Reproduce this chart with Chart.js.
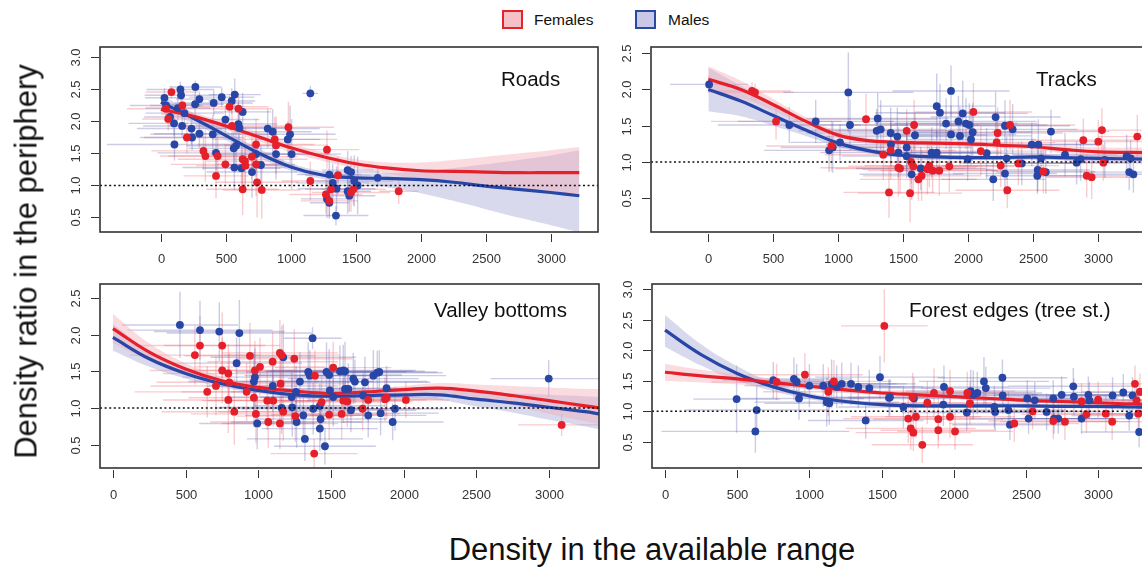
<!DOCTYPE html>
<html>
<head>
<meta charset="utf-8">
<script src="https://cdn.jsdelivr.net/npm/chart.js@4.4.1/dist/chart.umd.min.js"></script>
<style>
  body { margin: 0; background: #fff; }
  #wrap { position: relative; width: 1142px; height: 569px; overflow: hidden; background: #fff;
          font-family: "Liberation Sans", Arial, sans-serif; color: #111; }
  canvas { position: absolute; }
  .ptitle { position: absolute; font-size: 20.5px; line-height: 20.5px; white-space: nowrap; }
  .lgbox { position: absolute; width: 17px; height: 15px; border: 2px solid; }
  .lgtxt { position: absolute; font-size: 15.5px; line-height: 16px; top: 12px; }
  #xtitle { position: absolute; left: 352px; top: 534px; width: 600px; text-align: center;
            font-size: 31px; line-height: 31px; }
  #ytitle { position: absolute; left: -224px; top: 246px; width: 500px; text-align: center;
            font-size: 31px; line-height: 31px; transform: rotate(-90deg); }
</style>
</head>
<body>
<div id="wrap">
  <div class="lgbox" style="left:502px; top:10px; background:rgba(245,185,192,0.9); border-color:#e3242b;"></div>
  <div class="lgtxt" style="left:534px;">Females</div>
  <div class="lgbox" style="left:635px; top:10px; background:rgba(195,195,228,0.9); border-color:#2b48a3;"></div>
  <div class="lgtxt" style="left:668px;">Males</div>

  <canvas id="roads" width="612" height="250" style="left:0px; top:30px;"></canvas>
  <canvas id="tracks" width="560" height="250" style="left:612px; top:30px;"></canvas>
  <canvas id="valley" width="612" height="250" style="left:0px; top:270px;"></canvas>
  <canvas id="forest" width="560" height="250" style="left:612px; top:270px;"></canvas>

  <div class="ptitle" style="left:501px; top:69px;">Roads</div>
  <div class="ptitle" style="left:1036px; top:69px;">Tracks</div>
  <div class="ptitle" style="left:434px; top:300px;">Valley bottoms</div>
  <div class="ptitle" style="left:909px; top:300px;">Forest edges (tree st.)</div>

  <div id="xtitle">Density in the available range</div>
  <div id="ytitle">Density ratio in the periphery</div>
</div>

<script>
// tick labels
const xTicks = [0, 500, 1000, 1500, 2000, 2500, 3000];
const yTicks30 = [0.5, 1.0, 1.5, 2.0, 2.5, 3.0];
const yTicks25 = [0.5, 1.0, 1.5, 2.0, 2.5];

// points: [density, ratio, x half-error, y half-error]
const roadsF = [
  [81,2.46,200,0.10],[38,2.20,300,0.15],[56,2.04,200,0.18],[165,2.25,250,0.15],[528,2.23,300,0.20],
  [597,2.20,260,0.25],[327,1.54,400,0.30],[342,1.46,350,0.40],[437,1.46,380,0.35],[496,1.33,420,0.30],
  [629,1.41,500,0.45],[647,1.38,300,0.40],[650,1.31,380,0.35],[732,1.64,450,0.40],[732,1.33,300,0.50],
  [876,1.72,480,0.35],[886,1.63,400,0.45],[981,1.91,350,0.40],[424,1.15,250,0.35],[740,1.05,320,0.55],
  [629,0.94,280,0.40],[776,0.93,300,0.45],[1150,1.07,220,0.30],[1278,1.56,250,0.30],[1309,0.94,200,0.25],
  [1270,0.86,280,0.30],[1296,0.76,220,0.25],[1363,1.16,250,0.30],[547,1.93,400,0.35],[1463,0.89,300,0.30],
  [1481,0.94,250,0.25],[1830,0.91,150,0.20],[200,1.75,330,0.25],[700,1.45,350,0.35]
];
const roadsM = [
  [27,2.37,150,0.15],[150,2.50,260,0.12],[265,2.54,200,0.10],[155,2.41,280,0.15],[296,2.35,180,0.12],
  [263,2.27,220,0.18],[406,2.29,300,0.20],[468,2.38,250,0.15],[568,2.42,200,0.25],[545,2.32,180,0.20],
  [629,2.15,220,0.30],[70,2.07,200,0.15],[101,1.97,350,0.20],[163,1.93,300,0.18],[235,1.89,420,0.25],
  [296,1.81,350,0.22],[240,1.75,400,0.20],[104,1.64,520,0.25],[399,1.80,480,0.30],[496,2.03,260,0.22],
  [596,1.96,300,0.35],[604,1.90,380,0.30],[822,1.89,400,0.30],[860,1.84,300,0.35],[976,1.72,250,0.28],
  [994,1.80,350,0.45],[886,1.49,500,0.40],[732,1.49,420,0.35],[578,1.62,380,0.30],[424,1.51,450,0.28],
  [565,1.28,400,0.35],[701,1.21,350,0.40],[1006,1.49,300,0.55],[1150,2.44,60,0.12],[1296,1.17,250,0.25],
  [1322,1.04,280,0.30],[1352,0.95,300,0.35],[1278,0.79,200,0.30],[1296,0.73,150,0.25],[1347,0.53,250,0.15],
  [1437,1.24,200,0.30],[1437,0.91,180,0.35],[40,2.25,280,0.18],[130,2.21,250,0.20],[181,2.13,300,0.18],
  [1463,1.21,220,0.25],[1488,1.07,300,0.40],[1514,1.00,250,0.45],[1450,0.84,200,0.25],[1668,1.12,180,0.15],
  [560,1.58,350,0.25],[620,1.27,300,0.35],[770,1.32,250,0.30]
];
const roadsKnots = [0, 250, 500, 750, 1000, 1250, 1500, 1750, 2000, 2250, 2500, 2750, 3000, 3220];
const roadsFitF = [2.19, 2.08, 1.93, 1.76, 1.59, 1.45, 1.34, 1.27, 1.23, 1.22, 1.21, 1.20, 1.20, 1.20];
const roadsHiF  = [2.28, 2.14, 1.99, 1.83, 1.66, 1.52, 1.41, 1.36, 1.36, 1.40, 1.45, 1.50, 1.55, 1.60];
const roadsLoF  = [2.10, 2.02, 1.87, 1.69, 1.52, 1.38, 1.27, 1.18, 1.10, 1.04, 0.98, 0.93, 0.88, 0.82];
const roadsFitM = [2.30, 2.05, 1.78, 1.51, 1.29, 1.16, 1.12, 1.11, 1.09, 1.05, 0.99, 0.94, 0.89, 0.84];
const roadsHiM  = [2.42, 2.13, 1.85, 1.58, 1.35, 1.22, 1.19, 1.20, 1.22, 1.27, 1.33, 1.40, 1.47, 1.55];
const roadsLoM  = [2.18, 1.97, 1.71, 1.44, 1.23, 1.10, 1.05, 0.97, 0.88, 0.76, 0.63, 0.50, 0.38, 0.27];

const tracksF = [
  [336,1.98,300,0.12],[359,1.96,300,0.12],[521,1.56,500,0.25],[947,1.22,500,0.35],[1213,1.59,550,0.35],
  [1403,1.16,500,0.40],[1346,1.10,450,0.35],[1462,0.92,600,0.40],[1390,0.58,350,0.35],[1552,0.57,400,0.40],
  [1475,0.91,500,0.35],[1583,1.51,500,0.35],[1526,1.43,550,0.30],[1577,0.94,500,0.35],[1616,0.76,450,0.30],
  [1641,0.81,450,0.35],[1685,0.90,500,0.35],[1726,0.88,500,0.30],[1777,0.88,450,0.35],[1854,0.94,500,0.35],
  [2039,1.69,450,0.40],[2096,1.15,500,0.35],[2226,1.40,500,0.35],[2218,1.27,450,0.30],[2249,0.95,450,0.30],
  [2321,1.51,500,0.35],[2300,0.61,400,0.25],[2385,0.98,450,0.30],[2577,0.87,400,0.30],[2885,1.30,400,0.30],
  [2911,0.81,350,0.30],[2949,0.79,350,0.30],[3000,1.28,350,0.30],[3028,1.44,350,0.30],[3039,0.99,350,0.25],
  [3300,1.35,300,0.30],[1560,1.00,450,0.30],[1700,0.95,500,0.30]
];
const tracksM = [
  [6,2.07,300,0.12],[623,1.51,550,0.25],[826,1.56,600,0.30],[1077,1.96,500,0.55],[1090,1.51,450,0.35],
  [929,1.16,500,0.30],[957,1.20,400,0.35],[1013,1.27,380,0.25],[1303,1.60,550,0.35],[1295,1.43,600,0.30],
  [1326,1.45,500,0.40],[1403,1.40,650,0.35],[1454,1.35,550,0.40],[1405,1.24,500,0.30],[1462,1.13,600,0.35],
  [1526,1.20,500,0.35],[1590,1.37,550,0.30],[1564,0.83,400,0.35],[1634,0.91,500,0.30],[1718,1.13,450,0.35],
  [1757,1.13,500,0.30],[1757,1.77,450,0.45],[1782,1.68,500,0.40],[1829,1.53,550,0.35],[1867,1.98,450,0.35],
  [1867,1.38,500,0.40],[1924,1.56,600,0.35],[1936,1.36,550,0.40],[1957,1.67,500,0.45],[1982,1.53,550,0.35],
  [2008,1.51,600,0.30],[2021,1.31,500,0.35],[2034,1.41,450,0.40],[1995,1.04,500,0.30],[2141,1.12,450,0.35],
  [2210,1.62,500,0.35],[2192,0.76,400,0.30],[2282,1.50,500,0.35],[2295,1.05,450,0.30],[2282,0.84,400,0.30],
  [2341,1.45,500,0.35],[2411,0.98,450,0.30],[2488,1.24,500,0.30],[2539,1.24,450,0.35],[2534,0.89,400,0.30],
  [2531,0.81,400,0.25],[2596,0.86,380,0.30],[2636,1.42,450,0.30],[2744,1.10,400,0.30],[2833,0.99,400,0.30],
  [2864,1.04,380,0.30],[3218,1.08,350,0.30],[3249,1.05,350,0.25],[3238,0.86,300,0.25],[3270,0.83,300,0.25],
  [1526,1.08,500,0.30],[2560,1.05,450,0.25],[3050,1.03,300,0.25]
];
const tracksKnots = [0, 250, 500, 750, 1000, 1250, 1500, 1750, 2000, 2250, 2500, 2750, 3000, 3370];
const tracksFitF = [2.14, 2.00, 1.79, 1.56, 1.37, 1.29, 1.27, 1.26, 1.25, 1.23, 1.21, 1.17, 1.14, 1.13];
const tracksHiF  = [2.32, 2.12, 1.87, 1.62, 1.42, 1.33, 1.31, 1.30, 1.29, 1.27, 1.25, 1.22, 1.20, 1.20];
const tracksLoF  = [1.96, 1.88, 1.71, 1.50, 1.32, 1.25, 1.23, 1.22, 1.21, 1.19, 1.17, 1.12, 1.08, 1.06];
const tracksFitM = [2.00, 1.84, 1.64, 1.44, 1.26, 1.15, 1.09, 1.07, 1.06, 1.06, 1.07, 1.06, 1.05, 1.04];
const tracksHiM  = [2.30, 2.05, 1.78, 1.52, 1.31, 1.19, 1.12, 1.10, 1.09, 1.09, 1.10, 1.10, 1.10, 1.10];
const tracksLoM  = [1.70, 1.63, 1.50, 1.36, 1.21, 1.11, 1.06, 1.04, 1.03, 1.03, 1.04, 1.02, 1.00, 0.98];

const valleyF = [
  [599,1.85,450,0.40],[752,1.85,400,0.45],[564,1.72,450,0.40],[649,1.22,500,0.35],[709,1.30,450,0.40],
  [752,1.51,500,0.45],[794,1.47,450,0.40],[801,1.35,500,0.40],[794,1.11,450,0.45],[835,0.95,500,0.45],
  [920,1.22,450,0.40],[943,1.71,450,0.45],[977,1.51,500,0.40],[1012,1.56,450,0.40],[970,1.14,450,0.40],
  [984,0.92,450,0.40],[1069,0.81,400,0.35],[1099,1.63,450,0.40],[1149,1.75,400,0.45],[1161,1.72,400,0.40],
  [1062,1.10,450,0.40],[1103,1.10,450,0.35],[1154,1.33,450,0.40],[1172,0.95,450,0.40],[1149,0.79,400,0.35],
  [1248,1.67,400,0.40],[1255,0.89,400,0.35],[1390,1.44,400,0.35],[1385,0.38,300,0.20],[1436,1.08,450,0.35],
  [1488,0.91,400,0.35],[1516,1.55,400,0.35],[1574,0.92,400,0.35],[1613,1.09,450,0.35],[1585,1.10,450,0.30],
  [1718,0.99,400,0.30],[1757,1.11,400,0.30],[1872,1.12,400,0.30],[1884,1.14,350,0.30],[2016,1.11,300,0.25],
  [3088,0.77,300,0.15]
];
const valleyM = [
  [461,2.13,400,0.45],[599,2.06,500,0.40],[732,2.04,450,0.40],[870,2.02,500,0.45],[851,1.61,450,0.35],
  [977,1.42,500,0.40],[970,1.36,450,0.40],[1172,1.69,500,0.45],[1374,1.95,200,0.15],[993,0.79,400,0.35],
  [1161,1.00,450,0.35],[1234,1.01,500,0.40],[1230,1.15,450,0.35],[1287,1.36,500,0.40],[1264,0.81,450,0.35],
  [1321,0.58,400,0.30],[1344,1.49,500,0.40],[1355,1.44,450,0.35],[1378,0.99,500,0.35],[1424,0.72,400,0.30],
  [1459,0.48,350,0.25],[1470,1.49,550,0.40],[1488,1.45,500,0.35],[1493,1.24,450,0.35],[1516,1.15,500,0.40],
  [1429,0.85,450,0.30],[1562,1.50,500,0.35],[1597,1.50,550,0.40],[1620,1.26,500,0.35],[1424,1.03,450,0.30],
  [1310,0.90,400,0.35],[1585,1.51,500,0.35],[1654,1.40,450,0.35],[1665,1.36,500,0.30],[1734,1.35,450,0.35],
  [1792,1.44,500,0.35],[1819,1.48,450,0.30],[1833,1.49,400,0.30],[1883,1.27,400,0.30],[1941,0.99,350,0.30],
  [1925,0.81,350,0.25],[1757,0.90,400,0.30],[1842,0.93,400,0.30],[1638,0.97,450,0.30],[2999,1.40,400,0.25],
  [1597,1.26,450,0.30],[1722,1.17,450,0.30],[1100,1.30,450,0.35],[1260,1.22,450,0.35]
];
const valleyKnots = [0, 250, 500, 750, 1000, 1250, 1500, 1750, 2000, 2250, 2500, 2750, 3000, 3250, 3350];
const valleyFitF = [2.08, 1.76, 1.53, 1.37, 1.28, 1.23, 1.20, 1.22, 1.25, 1.27, 1.23, 1.17, 1.10, 1.03, 1.00];
const valleyHiF  = [2.28, 1.88, 1.61, 1.43, 1.32, 1.27, 1.24, 1.26, 1.30, 1.34, 1.32, 1.30, 1.28, 1.26, 1.26];
const valleyLoF  = [1.88, 1.64, 1.45, 1.31, 1.24, 1.19, 1.16, 1.18, 1.20, 1.20, 1.14, 1.04, 0.92, 0.82, 0.78];
const valleyFitM = [1.96, 1.67, 1.47, 1.33, 1.24, 1.18, 1.16, 1.17, 1.18, 1.18, 1.12, 1.07, 1.01, 0.95, 0.92];
const valleyHiM  = [2.14, 1.78, 1.54, 1.38, 1.28, 1.22, 1.20, 1.21, 1.23, 1.25, 1.22, 1.20, 1.18, 1.16, 1.15];
const valleyLoM  = [1.78, 1.56, 1.40, 1.28, 1.20, 1.14, 1.12, 1.13, 1.13, 1.11, 1.02, 0.94, 0.84, 0.75, 0.71];

const forestF = [
  [1519,2.40,300,0.60],[969,1.60,400,0.35],[1170,1.49,400,0.35],[1131,1.32,450,0.40],[773,1.48,450,0.30],
  [1685,0.88,450,0.40],[1702,0.72,450,0.35],[1720,0.65,400,0.30],[1738,0.91,450,0.35],[1715,1.23,450,0.40],
  [1782,0.45,350,0.30],[1817,1.14,450,0.35],[1863,1.30,450,0.40],[1893,0.87,450,0.35],[1893,0.69,400,0.30],
  [1974,1.33,450,0.35],[1974,0.91,450,0.35],[2009,0.67,400,0.30],[2094,1.30,450,0.35],[2112,1.13,450,0.35],
  [2419,0.80,450,0.30],[2546,1.00,450,0.30],[2689,0.84,450,0.30],[2770,0.83,450,0.30],[2885,1.16,450,0.30],
  [2919,0.95,450,0.30],[3000,1.19,450,0.30],[3053,0.96,400,0.30],[3097,0.83,400,0.30],[3255,1.45,400,0.30],
  [3266,1.18,400,0.30],[3278,0.96,400,0.30],[3289,1.32,400,0.30]
];
const forestM = [
  [496,1.20,300,0.55],[635,1.02,500,0.40],[626,0.67,650,0.35],[750,1.51,350,0.30],[893,1.53,400,0.35],
  [912,1.48,400,0.30],[928,1.21,450,0.35],[1000,1.42,450,0.35],[1096,1.42,450,0.35],[1120,1.15,500,0.40],
  [1138,1.13,450,0.35],[1154,1.45,450,0.40],[1189,1.40,450,0.35],[1224,1.45,450,0.35],[1288,1.45,450,0.35],
  [1339,1.40,450,0.35],[1415,1.38,450,0.30],[1489,1.56,450,0.35],[1551,1.22,450,0.30],[1390,0.85,400,0.30],
  [1558,1.23,450,0.30],[1651,1.07,450,0.35],[1724,1.21,450,0.35],[1932,1.40,450,0.35],[1928,1.11,450,0.35],
  [2117,1.33,450,0.35],[2135,1.27,450,0.40],[2163,1.30,450,0.35],[2209,1.49,450,0.40],[2222,1.38,450,0.35],
  [2090,0.98,450,0.30],[2281,1.07,450,0.35],[2337,1.55,450,0.30],[2339,1.26,450,0.30],[2378,1.02,400,0.30],
  [2389,0.78,400,0.25],[2509,1.21,450,0.30],[2518,0.88,400,0.25],[2561,1.18,450,0.30],[2689,1.21,450,0.30],
  [2694,0.88,400,0.25],[2747,1.27,450,0.30],[2724,0.88,400,0.25],[2828,1.41,450,0.30],[2832,1.24,450,0.30],
  [2885,0.88,400,0.25],[2932,1.27,450,0.30],[2939,1.18,450,0.30],[3100,1.26,450,0.30],[3174,1.31,450,0.30],
  [3215,0.93,400,0.25],[3238,1.26,450,0.30],[3284,0.66,400,0.25],[2643,0.99,450,0.30],[2286,0.99,450,0.30]
];
const forestKnots = [0, 250, 500, 750, 1000, 1250, 1500, 1750, 2000, 2250, 2500, 2750, 3000, 3250, 3370];
const forestFitF = [1.64, 1.58, 1.53, 1.47, 1.41, 1.35, 1.30, 1.27, 1.24, 1.21, 1.18, 1.16, 1.14, 1.12, 1.12];
const forestHiF  = [1.78, 1.68, 1.61, 1.53, 1.46, 1.39, 1.34, 1.31, 1.28, 1.25, 1.22, 1.20, 1.19, 1.18, 1.18];
const forestLoF  = [1.50, 1.47, 1.44, 1.41, 1.36, 1.30, 1.26, 1.23, 1.20, 1.17, 1.14, 1.12, 1.09, 1.06, 1.05];
const forestFitM = [2.33, 1.93, 1.62, 1.40, 1.25, 1.16, 1.11, 1.09, 1.09, 1.09, 1.09, 1.08, 1.08, 1.07, 1.07];
const forestHiM  = [2.58, 2.10, 1.74, 1.47, 1.30, 1.20, 1.14, 1.12, 1.12, 1.12, 1.12, 1.12, 1.12, 1.12, 1.12];
const forestLoM  = [2.06, 1.75, 1.50, 1.33, 1.20, 1.12, 1.08, 1.06, 1.06, 1.06, 1.06, 1.05, 1.04, 1.02, 1.02];

const RED = 'rgb(229,32,42)';
const BLUE = 'rgb(40,70,165)';
const RED_ERR = 'rgba(236,95,105,0.32)';
const BLUE_ERR = 'rgba(95,95,175,0.32)';
const RED_BAND = 'rgba(244,170,180,0.42)';
const BLUE_BAND = 'rgba(165,165,215,0.42)';
const FONT = '"Liberation Sans", Arial, sans-serif';


function pts(arr) {
    return arr.map(p => ({x: p[0], y: p[1], xe: p[2], ye: p[3]}));
};

function curve(knots, vals) {
    return knots.map((k, i) => ({x: k, y: vals[i]}));
};


// crosses behind the dots, clipped to the plot box
const errorBars = {
    id: 'errorBars',
    beforeDatasetsDraw(chart) {
        const {ctx, chartArea: a, scales: {x, y}} = chart;
        ctx.save();
        ctx.beginPath();
        ctx.rect(a.left, a.top, a.right - a.left, a.bottom - a.top);
        ctx.clip();
        ctx.lineWidth = 1.4;
        chart.data.datasets.forEach(ds => {
            if (!ds.errColor) return;
            ctx.strokeStyle = ds.errColor;
            ds.data.forEach(p => {
                let px = x.getPixelForValue(p.x);
                let py = y.getPixelForValue(p.y);
                ctx.beginPath();
                ctx.moveTo(x.getPixelForValue(p.x - p.xe), py);
                ctx.lineTo(x.getPixelForValue(p.x + p.xe), py);
                ctx.moveTo(px, y.getPixelForValue(p.y - p.ye));
                ctx.lineTo(px, y.getPixelForValue(p.y + p.ye));
                ctx.stroke();
            });
        });
        ctx.restore();
    }
};


// R-like box, ticks, rotated y labels and the dotted reference line at 1
function makeFrame(yTicks) {
    return {
        id: 'frame',
        afterDraw(chart) {
            const {ctx, chartArea: a, scales: {x, y}} = chart;
            ctx.save();
            let y1 = y.getPixelForValue(1);
            ctx.strokeStyle = '#111';
            ctx.lineWidth = 1.6;
            ctx.setLineDash([2, 2.6]);
            ctx.beginPath();
            ctx.moveTo(a.left, y1);
            ctx.lineTo(a.right, y1);
            ctx.stroke();
            ctx.setLineDash([]);

            ctx.strokeStyle = '#333';
            ctx.lineWidth = 1.6;
            ctx.strokeRect(a.left, a.top, a.right - a.left, a.bottom - a.top);

            ctx.lineWidth = 1;
            ctx.fillStyle = '#333';
            ctx.font = '13px ' + FONT;
            ctx.textAlign = 'center';
            ctx.textBaseline = 'middle';
            xTicks.forEach(v => {
                let px = Math.round(x.getPixelForValue(v)) + 0.5;
                ctx.beginPath();
                ctx.moveTo(px, a.bottom + 2);
                ctx.lineTo(px, a.bottom + 10);
                ctx.stroke();
                ctx.fillText(String(v), px, a.bottom + 27);
            });
            yTicks.forEach(v => {
                let py = Math.round(y.getPixelForValue(v)) + 0.5;
                ctx.beginPath();
                ctx.moveTo(a.left - 9, py);
                ctx.lineTo(a.left - 1, py);
                ctx.stroke();
                ctx.save();
                ctx.translate(a.left - 24, py);
                ctx.rotate(-Math.PI / 2);
                ctx.fillText(v.toFixed(1), 0, 0);
                ctx.restore();
            });
            ctx.restore();
        }
    };
};


function makePanel(id, pad, xr, yr, yTicks, fem, mal, knots, fitF, hiF, loF, fitM, hiM, loM) {
    let lineStyle = {pointRadius: 0, borderWidth: 3.2, tension: 0.4, fill: false, order: 1};
    let bandStyle = {pointRadius: 0, borderWidth: 0, tension: 0.4, order: 2};
    let dotStyle = {showLine: false, pointRadius: 3.9, pointBorderWidth: 0, pointHoverRadius: 3.9, order: 0};
    new Chart(document.getElementById(id), {
        type: 'line',
        data: {
            datasets: [
                Object.assign({label: 'Females', data: pts(fem), pointBackgroundColor: RED, errColor: RED_ERR}, dotStyle),
                Object.assign({label: 'Males', data: pts(mal), pointBackgroundColor: BLUE, errColor: BLUE_ERR}, dotStyle),
                Object.assign({data: curve(knots, fitF), borderColor: RED}, lineStyle),
                Object.assign({data: curve(knots, fitM), borderColor: BLUE}, lineStyle),
                Object.assign({data: curve(knots, hiF), fill: '+1', backgroundColor: RED_BAND}, bandStyle),
                Object.assign({data: curve(knots, loF), fill: false}, bandStyle),
                Object.assign({data: curve(knots, hiM), fill: '+1', backgroundColor: BLUE_BAND}, bandStyle),
                Object.assign({data: curve(knots, loM), fill: false}, bandStyle)
            ]
        },
        options: {
            responsive: false,
            animation: false,
            events: [],
            layout: {padding: pad, autoPadding: false},
            plugins: {
                legend: {display: false},
                tooltip: {enabled: false}
            },
            scales: {
                x: {type: 'linear', display: false, min: xr[0], max: xr[1]},
                y: {type: 'linear', display: false, min: yr[0], max: yr[1]}
            }
        },
        plugins: [errorBars, makeFrame(yTicks)]
    });
};


makePanel('roads', {left: 100, top: 17, right: 14, bottom: 48}, [-469, 3364], [0.273, 3.164], yTicks30,
          roadsF, roadsM, roadsKnots, roadsFitF, roadsHiF, roadsLoF, roadsFitM, roadsHiM, roadsLoM);
makePanel('tracks', {left: 39, top: 17, right: 26, bottom: 48}, [-441, 3367], [0.034, 2.586], yTicks25,
          tracksF, tracksM, tracksKnots, tracksFitF, tracksHiF, tracksLoF, tracksFitM, tracksHiM, tracksLoM);
makePanel('valley', {left: 100, top: 14, right: 13, bottom: 52}, [-89, 3345], [0.184, 2.687], yTicks25,
          valleyF, valleyM, valleyKnots, valleyFitF, valleyHiF, valleyLoF, valleyFitM, valleyHiM, valleyLoM);
makePanel('forest', {left: 40, top: 14, right: 21, bottom: 52}, [-90, 3366], [0.070, 3.087], yTicks30,
          forestF, forestM, forestKnots, forestFitF, forestHiF, forestLoF, forestFitM, forestHiM, forestLoM);
</script>
</body>
</html>
